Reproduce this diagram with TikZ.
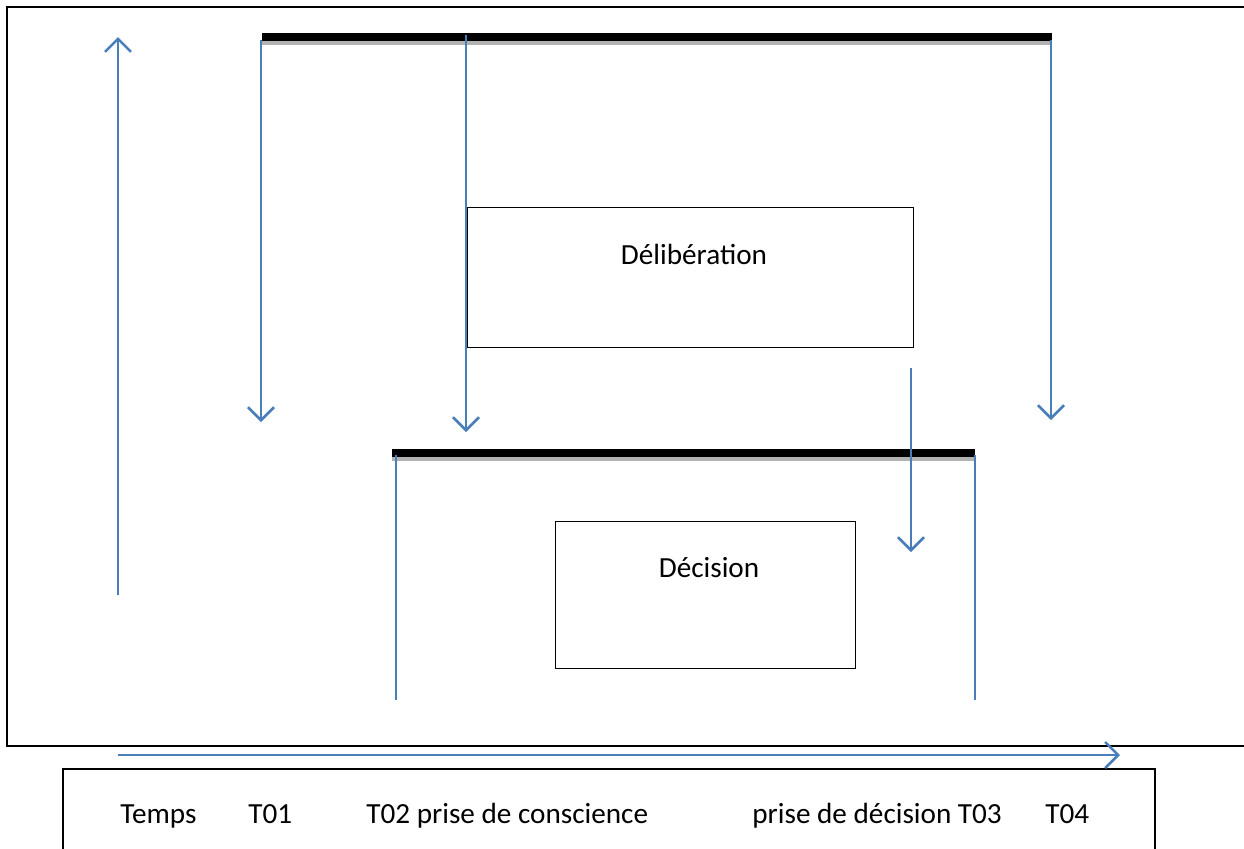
\documentclass[tikz,border=0pt]{standalone}
\usepackage{fontspec}
\setmainfont{Carlito}
\usetikzlibrary{arrows.meta}
\definecolor{wordblue}{RGB}{74,126,187}

\begin{document}
\begin{tikzpicture}[x=0.5pt,y=-0.5pt,font=\fontsize{14.6}{17}\selectfont,
  flow/.style={wordblue,line width=1.3pt},
  flowtip/.style={flow,-{Straight Barb[length=6.5pt,width=13pt,line width=1.3pt]}},
  box/.style={draw,line width=0.5pt,anchor=north west,inner sep=0pt}]
\useasboundingbox (0,0) rectangle (1244,848);
\draw[line width=1pt] (1250,7) -- (7,7) -- (7,746) -- (1250,746);
\draw[line width=0.8pt] (63,850) -- (63,769) -- (1155,769) -- (1155,850);
% bars
\draw[gray!60,line width=2pt] (262,43) -- (1052,43);
\draw[line width=4pt] (262,37) -- (1052,37);
\draw[gray!60,line width=2pt] (392,459) -- (975,459);
\draw[line width=4pt] (392,452.5) -- (975,452.5);
% boxes
\node[box,minimum width=223pt,minimum height=70pt] (delib) at (467,207) {};
\node (delibtext) at (694,254) {Délibération};
\node[box,minimum width=150pt,minimum height=73.5pt] (decis) at (555,521) {};
\node (decistext) at (709,568) {Décision};
% connectors
\coordinate (t0) at (118,595); \coordinate (t0top) at (118,37);
\coordinate (a1) at (261,40);  \coordinate (b1) at (261,422);
\coordinate (a2) at (466,35);  \coordinate (b2) at (466,432);
\coordinate (a3) at (1051,40); \coordinate (b3) at (1051,420);
\coordinate (a4) at (911,368); \coordinate (b4) at (911,552);
\coordinate (a5) at (396,455); \coordinate (b5) at (396,700);
\coordinate (a6) at (975,455); \coordinate (b6) at (975,700);
\coordinate (h0) at (118,755); \coordinate (h1) at (1120,755);
\draw[flowtip] (t0) -- (t0top);
\foreach \i in {1,2,3,4} {\draw[flowtip] (a\i) -- (b\i);}
\draw[flow] (a5) -- (b5);
\draw[flow] (a6) -- (b6);
\draw[flowtip] (h0) -- (h1);
% time line
\foreach \x/\t [count=\i] in {120/Temps,248/T01,366/T02 prise de conscience,752/prise de décision T03,1045/T04}
  {\node[anchor=base west,inner sep=0pt] (lab\i) at (\x,823) {\t};}
\end{tikzpicture}
\end{document}
